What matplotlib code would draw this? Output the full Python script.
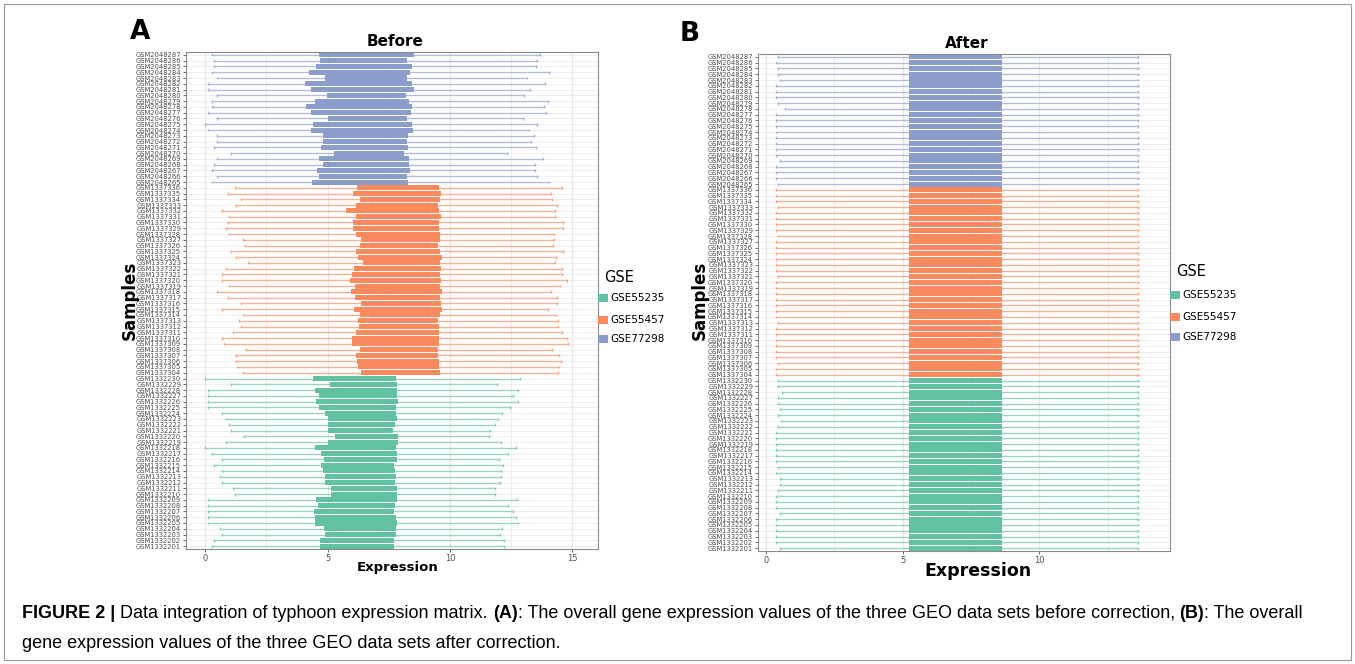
import matplotlib
matplotlib.use("Agg")
import matplotlib.pyplot as plt
from matplotlib.patches import Rectangle
import numpy as np

# ---- data (rows listed top to bottom as in the figure) ----
gse77298_ids = ["GSM%d" % i for i in range(2048287, 2048264, -1)]
gse55457_ids = ["GSM%d" % i for i in range(1337336, 1337303, -1)]
gse55235_ids = ["GSM%d" % i for i in range(1332230, 1332200, -1)]

# Before correction
gse77298_low = [0.26, 0.37, 0.37, 0.26, 0.48, 0.12, 0.12, 0.48, 0.26, 0.26, 0.12, 0.48,
                0.00, 0.12, 0.48, 0.48, 0.37, 1.06, 0.48, 0.37, 0.26, 0.48, 0.26]
gse77298_q1 = [4.66, 4.68, 4.51, 4.22, 4.90, 4.06, 4.32, 4.97, 4.48, 4.11, 4.32, 5.01,
               4.39, 4.33, 4.81, 4.81, 4.71, 5.26, 4.66, 4.82, 4.58, 4.66, 4.34]
gse77298_q3 = [8.53, 8.25, 8.46, 8.36, 8.24, 8.43, 8.51, 8.20, 8.31, 8.44, 8.40, 8.23,
               8.44, 8.48, 8.27, 8.23, 8.28, 8.12, 8.32, 8.31, 8.35, 8.24, 8.28]
gse77298_high = [13.67, 13.56, 13.51, 14.04, 13.16, 13.88, 13.26, 13.01, 14.00, 13.84, 13.93, 12.98,
                 13.56, 13.25, 13.43, 13.31, 13.51, 12.34, 13.80, 13.48, 13.48, 13.56, 14.03]

gse55457_low = [1.21, 0.91, 1.47, 1.27, 0.67, 0.98, 0.91, 0.84, 0.98, 1.53, 1.63, 1.06, 1.27,
                1.73, 0.84, 0.67, 0.67, 0.98, 0.48, 0.91, 1.47, 0.67, 1.53, 1.36, 1.47, 1.13,
                0.67, 0.76, 1.68, 1.27, 1.27, 1.31, 1.53]
gse55457_q1 = [6.18, 6.02, 6.31, 6.17, 5.77, 6.14, 6.02, 6.03, 6.14, 6.35, 6.33, 6.16, 6.25,
               6.43, 6.07, 5.99, 5.90, 6.11, 5.96, 6.11, 6.35, 6.06, 6.33, 6.24, 6.29, 6.17,
               5.98, 6.01, 6.33, 6.17, 6.21, 6.22, 6.35]
gse55457_q3 = [9.56, 9.63, 9.61, 9.49, 9.56, 9.64, 9.56, 9.56, 9.61, 9.61, 9.51, 9.59, 9.66,
               9.60, 9.64, 9.59, 9.64, 9.59, 9.66, 9.59, 9.64, 9.68, 9.59, 9.52, 9.56, 9.56,
               9.56, 9.56, 9.51, 9.51, 9.56, 9.56, 9.61]
gse55457_high = [14.57, 14.11, 14.18, 14.39, 14.31, 14.30, 14.61, 14.63, 14.24, 14.24, 14.20, 14.60, 14.33,
                 14.31, 14.59, 14.59, 14.80, 14.50, 14.14, 14.38, 14.38, 14.00, 14.34, 14.41, 14.42, 14.59,
                 14.80, 14.83, 14.18, 14.46, 14.53, 14.46, 14.42]

gse55235_low = [0.00, 1.06, 0.12, 0.12, 0.12, 0.12, 0.67, 0.84, 0.98, 1.06, 1.59, 0.84, 0.00, 0.26, 0.67,
                0.37, 0.67, 0.59, 0.67, 1.13, 1.20, 0.12, 0.12, 0.12, 0.12, 0.12, 0.59, 0.67, 0.37, 0.26]
gse55235_q1 = [4.39, 5.09, 4.49, 4.66, 4.52, 4.64, 4.90, 5.00, 5.01, 5.01, 5.30, 5.00, 4.49, 4.73, 4.86,
               4.73, 4.82, 4.88, 4.89, 5.12, 5.15, 4.52, 4.62, 4.44, 4.47, 4.47, 4.85, 4.89, 4.70, 4.67]
gse55235_q3 = [7.80, 7.84, 7.84, 7.84, 7.86, 7.80, 7.80, 7.82, 7.76, 7.69, 7.86, 7.87, 7.80, 7.82, 7.82,
               7.72, 7.75, 7.79, 7.76, 7.83, 7.84, 7.84, 7.76, 7.72, 7.78, 7.83, 7.79, 7.79, 7.72, 7.71]
gse55235_high = [12.87, 11.93, 12.79, 12.58, 12.80, 12.47, 12.11, 11.98, 11.85, 11.64, 11.58, 12.08, 12.71, 12.37, 12.01,
                 12.15, 12.07, 12.09, 12.03, 11.85, 11.85, 12.73, 12.39, 12.56, 12.68, 12.76, 12.13, 12.05, 12.19, 12.19]

# After correction (same quantiles for every sample, only lower whisker varies)
after_q1 = 5.24
after_q3 = 8.63
after_high = 13.62
gse77298_after_low = [0.45, 0.37, 0.45, 0.45, 0.49, 0.37, 0.37, 0.37, 0.45, 0.67, 0.37, 0.37,
                      0.37, 0.37, 0.37, 0.37, 0.37, 0.37, 0.51, 0.37, 0.37, 0.37, 0.45]
gse55457_after_low = [0.37, 0.37, 0.37, 0.43, 0.37, 0.37, 0.37, 0.37, 0.43, 0.37, 0.37, 0.37, 0.37,
                      0.37, 0.37, 0.43, 0.37, 0.37, 0.37, 0.37, 0.37, 0.37, 0.37, 0.43, 0.37, 0.37,
                      0.37, 0.37, 0.37, 0.37, 0.43, 0.37, 0.37]
gse55235_after_low = [0.45, 0.45, 0.57, 0.45, 0.43, 0.49, 0.45, 0.53, 0.43, 0.37, 0.37, 0.37, 0.37, 0.37, 0.37,
                      0.43, 0.37, 0.49, 0.49, 0.43, 0.37, 0.37, 0.37, 0.49, 0.37, 0.37, 0.37, 0.37, 0.37, 0.49]

groups = ["GSE55235", "GSE55457", "GSE77298"]
colors = {"GSE55235": "#62C1A2", "GSE55457": "#F88A5E", "GSE77298": "#8A9DCB"}

sample_ids = gse77298_ids + gse55457_ids + gse55235_ids
n = len(sample_ids)
ypos = np.arange(n)[::-1]  # top row has highest y

group_of = ["GSE77298"] * len(gse77298_ids) + ["GSE55457"] * len(gse55457_ids) + ["GSE55235"] * len(gse55235_ids)
before = {
    "low": gse77298_low + gse55457_low + gse55235_low,
    "q1": gse77298_q1 + gse55457_q1 + gse55235_q1,
    "q3": gse77298_q3 + gse55457_q3 + gse55235_q3,
    "high": gse77298_high + gse55457_high + gse55235_high,
}
after = {
    "low": gse77298_after_low + gse55457_after_low + gse55235_after_low,
    "q1": [after_q1] * n,
    "q3": [after_q3] * n,
    "high": [after_high] * n,
}

W, H = 1355, 664
fig = plt.figure(figsize=(W / 100, H / 100), dpi=100)


def draw_panel(ax, stats, xlim, xt):
    ax.set_facecolor("white")
    ax.set_xlim(*xlim)
    ax.set_ylim(-0.5, n - 0.5)
    for y in ypos:
        ax.axhline(y, color="#ebebeb", lw=0.6, zorder=0)
    for x in np.arange(0, 16, 2.5):
        ax.axvline(x, color="#e6e6e6", lw=0.9 if x % 5 == 0 else 0.5, zorder=0)
    cols = [colors[g] for g in group_of]
    ax.hlines(ypos, stats["low"], stats["high"], colors=cols, lw=1.0, alpha=0.6, zorder=1)
    ax.vlines(stats["low"], ypos - 0.25, ypos + 0.25, colors=cols, lw=1.0, alpha=0.7, zorder=1)
    ax.vlines(stats["high"], ypos - 0.25, ypos + 0.25, colors=cols, lw=1.0, alpha=0.7, zorder=1)
    widths = np.array(stats["q3"]) - np.array(stats["q1"])
    ax.barh(ypos, widths, left=stats["q1"], height=0.87, color=cols, edgecolor="none", zorder=2)
    ax.set_yticks(ypos)
    ax.set_yticklabels(sample_ids, fontsize=4.9, color="#4d4d4d")
    ax.set_xticks(xt)
    ax.set_xticklabels([str(v) for v in xt], fontsize=6, color="#4d4d4d")
    ax.tick_params(axis="both", length=2, width=0.6, color="#555555", pad=1.5)
    for s in ax.spines.values():
        s.set_color("#8a8a8a")
        s.set_linewidth(0.8)


ax1 = fig.add_axes([186 / W, 1 - 549 / H, 412 / W, 497 / H])
draw_panel(ax1, before, (-0.79, 16.05), [0, 5, 10, 15])
ax2 = fig.add_axes([758 / W, 1 - 551 / H, 412 / W, 497 / H])
draw_panel(ax2, after, (-0.30, 14.78), [0, 5, 10])

# titles / labels
fig.text(395 / W, 1 - 41 / H, "Before", ha="center", va="center", fontsize=11, fontweight="bold")
fig.text(967 / W, 1 - 43 / H, "After", ha="center", va="center", fontsize=11, fontweight="bold")
fig.text(140 / W, 1 - 32 / H, "A", ha="center", va="center", fontsize=19, fontweight="bold")
fig.text(690 / W, 1 - 34 / H, "B", ha="center", va="center", fontsize=19, fontweight="bold")
fig.text(130 / W, 1 - 300 / H, "Samples", ha="center", va="center", rotation=90, fontsize=12, fontweight="bold")
fig.text(700 / W, 1 - 300 / H, "Samples", ha="center", va="center", rotation=90, fontsize=12, fontweight="bold")
fig.text(398 / W, 1 - 567 / H, "Expression", ha="center", va="center", fontsize=9.5, fontweight="bold")
fig.text(978 / W, 1 - 571 / H, "Expression", ha="center", va="center", fontsize=12.5, fontweight="bold")


def draw_legend(x, y_title, ys):
    fig.text(x / W, 1 - y_title / H, "GSE", ha="left", va="center", fontsize=10.5)
    for g, yy in zip(groups, ys):
        c = colors[g]
        fig.add_artist(Rectangle(((x - 6) / W, 1 - (yy + 4) / H), 10 / W, 8 / H,
                                 transform=fig.transFigure, color=c, lw=0))
        fig.text((x + 6) / W, 1 - yy / H, g, ha="left", va="center", fontsize=7.5)


draw_legend(604, 277, [298, 320, 339])
draw_legend(1176, 272, [295, 317, 337])

# outer frame
fig.add_artist(Rectangle((4 / W, 4 / H), 1 - 8 / W, 1 - 8 / H, transform=fig.transFigure,
                         fill=False, edgecolor="#9a9a9a", lw=0.8))

# caption with bold runs
cap_font = ["Liberation Sans", "DejaVu Sans"]
line1 = [("FIGURE 2 | ", "bold"), ("Data integration of typhoon expression matrix. ", "normal"),
         ("(A)", "bold"), (": The overall gene expression values of the three GEO data sets before correction, ", "normal"),
         ("(B)", "bold"), (": The overall", "normal")]
line2 = [("gene expression values of the three GEO data sets after correction.", "normal")]
renderer = fig.canvas.get_renderer()
for runs, ycap in [(line1, 613), (line2, 643)]:
    xcur = 22
    for txt, wt in runs:
        t = fig.text(xcur / W, 1 - ycap / H, txt, ha="left", va="center", fontsize=13,
                     fontweight=wt, family=cap_font)
        xcur += t.get_window_extent(renderer).width

fig.savefig("out.png", dpi=100)
